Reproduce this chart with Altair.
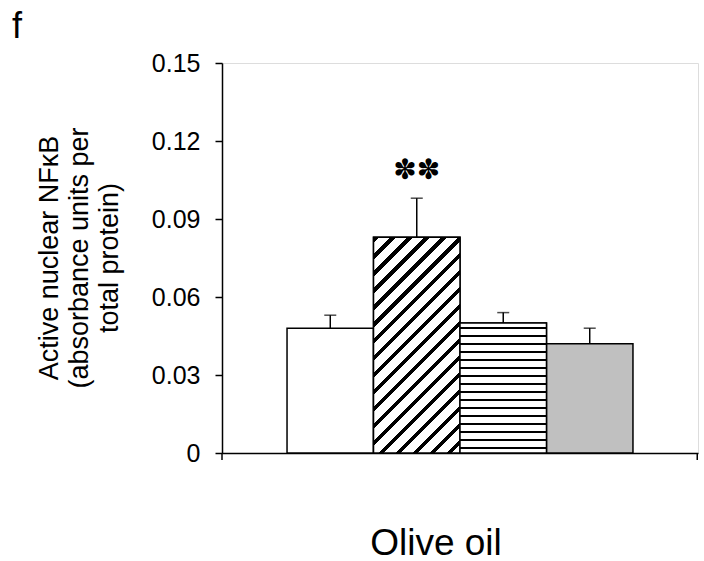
import math
import altair as alt
import pandas as pd

# ---- data ----
category = "Olive oil"
groups = ["Group 1", "Group 2", "Group 3", "Group 4"]
values = [0.048, 0.083, 0.050, 0.042]
err_upper = [0.053, 0.098, 0.054, 0.048]
fills = ["#ffffff", "#ffffff", "#ffffff", "#c0c0c0"]
y_ticks = [0, 0.03, 0.06, 0.09, 0.12, 0.15]
y_title = ["Active nuclear NFκB", "(absorbance units per", "total  protein)"]
signif_label = "✽✽"
panel_label = "f"

df = pd.DataFrame({"cat": category, "group": groups, "value": values, "err": err_upper})

# ---- layout ----
W, H = 476, 390
PAD_OUT = 0.188
FONT = "Liberation Sans"
YMAX = 0.15

group_px = W / (1 + 2 * PAD_OUT)
bar_w = group_px / len(groups)

# diagonal hatch gradient for group 2
h2 = values[1] / YMAX * H
s = (bar_w + h2) / (bar_w**2 + h2**2)
span = (bar_w + h2) / math.sqrt(2)
period = 12 / span
stops = []
t = 0.0
while t < 1.0:
    a, b = t, min(t + period * 0.32, 1.0)
    stops += [
        {"offset": round(a, 5), "color": "#000000"},
        {"offset": round(b, 5), "color": "#000000"},
        {"offset": round(b, 5), "color": "#ffffff"},
        {"offset": round(min(t + period, 1.0), 5), "color": "#ffffff"},
    ]
    t += period
diag_fill = {"gradient": "linear", "x1": 0, "y1": 0,
             "x2": bar_w * s, "y2": h2 * s, "stops": stops}

# horizontal stripes gradient for group 3
h3 = values[2] / YMAX * H
p3 = 8 / h3
hstops = []
t = 0.0
while t < 1.0:
    a = min(t + p3 * 0.45, 1.0)
    b = min(t + p3 * 0.72, 1.0)
    e = min(t + p3, 1.0)
    hstops += [
        {"offset": round(t, 5), "color": "#ffffff"},
        {"offset": round(a, 5), "color": "#ffffff"},
        {"offset": round(a, 5), "color": "#000000"},
        {"offset": round(b, 5), "color": "#000000"},
        {"offset": round(b, 5), "color": "#ffffff"},
        {"offset": round(e, 5), "color": "#ffffff"},
    ]
    t += p3
horiz_fill = {"gradient": "linear", "x1": 0, "y1": 0, "x2": 0, "y2": 1, "stops": hstops}

y_scale = alt.Scale(domain=[0, YMAX], nice=False, zero=True)

x_enc = alt.X("cat:N", scale=alt.Scale(paddingInner=0, paddingOuter=PAD_OUT),
              axis=alt.Axis(title=None, labelAngle=0, labelFontSize=37, labelFont=FONT,
                            labelColor="black", labelPadding=72, ticks=False,
                            labelBaseline="top", labelOffset=-24,
                            domainColor="black", domainWidth=1.5))
xo_enc = alt.XOffset("group:N", sort=groups,
                     scale=alt.Scale(paddingInner=0, paddingOuter=0))
y_enc = alt.Y("value:Q", scale=y_scale,
              axis=alt.Axis(values=y_ticks, title=None, grid=False,
                            labelExpr="datum.value == 0 ? '0' : format(datum.value, '.2f')",
                            labelFontSize=25, labelFont=FONT, labelColor="black",
                            labelPadding=15, tickSize=7, tickColor="black", tickWidth=1.5,
                            domainColor="black", domainWidth=1.5))

base = alt.Chart(df)
yv = alt.Y("value:Q", scale=y_scale)
ye = alt.Y("err:Q", scale=y_scale)

bars = base.mark_bar(stroke="black", strokeWidth=1.5).encode(
    x=x_enc, xOffset=xo_enc, y=y_enc,
    fill=alt.Fill("group:N", scale=alt.Scale(domain=groups, range=fills), legend=None),
)
bar2 = base.transform_filter(alt.datum.group == groups[1]).mark_bar(
    fill=diag_fill, stroke="black", strokeWidth=1.5).encode(x="cat:N", xOffset="group:N", y=yv)
bar3 = base.transform_filter(alt.datum.group == groups[2]).mark_bar(
    fill=horiz_fill, stroke="black", strokeWidth=1.5).encode(x="cat:N", xOffset="group:N", y=yv)

err_rule = base.mark_rule(color="black", strokeWidth=1.5).encode(
    x="cat:N", xOffset="group:N", y=yv, y2="err:Q")
err_cap = base.mark_tick(color="black", size=12, thickness=1.5, orient="horizontal").encode(
    x="cat:N", xOffset="group:N", y=ye)

star = base.transform_filter(alt.datum.group == groups[1]).mark_text(
    text=signif_label, font="DejaVu Sans", fontSize=28, dy=-27, baseline="middle", color="black"
).encode(x="cat:N", xOffset="group:N", y=ye)

xticks = alt.Chart(pd.DataFrame({"edge": [0]})).mark_rect(color="black").encode(
    x=alt.value(-0.75), x2=alt.value(0.75), y=alt.value(H), y2=alt.value(H + 7))
xticks2 = alt.Chart(pd.DataFrame({"edge": [1]})).mark_rect(color="black").encode(
    x=alt.value(W - 1.5), x2=alt.value(W), y=alt.value(H), y2=alt.value(H + 7))

ytitle = alt.Chart(pd.DataFrame({"t": [y_title]})).mark_text(
    font=FONT, fontSize=27, angle=270, align="center", baseline="middle",
    lineHeight=30, color="black"
).encode(text="t", x=alt.value(50 - 222), y=alt.value(H / 2))

flabel = alt.Chart(pd.DataFrame({"t": [panel_label]})).mark_text(
    font=FONT, fontSize=36, align="left", baseline="middle", color="black"
).encode(text="t:N", x=alt.value(-210), y=alt.value(-36))

chart = alt.layer(bars, bar2, bar3, err_rule, err_cap, star, xticks, xticks2, ytitle, flabel).properties(
    width=W, height=H,
    padding={"left": 222, "top": 63, "right": 6, "bottom": 108},
    autosize=alt.AutoSizeParams(type="none"),
).configure_view(stroke=None).configure(background="white")

chart.save("out.html", embed_options={"renderer": "svg", "actions": False})
